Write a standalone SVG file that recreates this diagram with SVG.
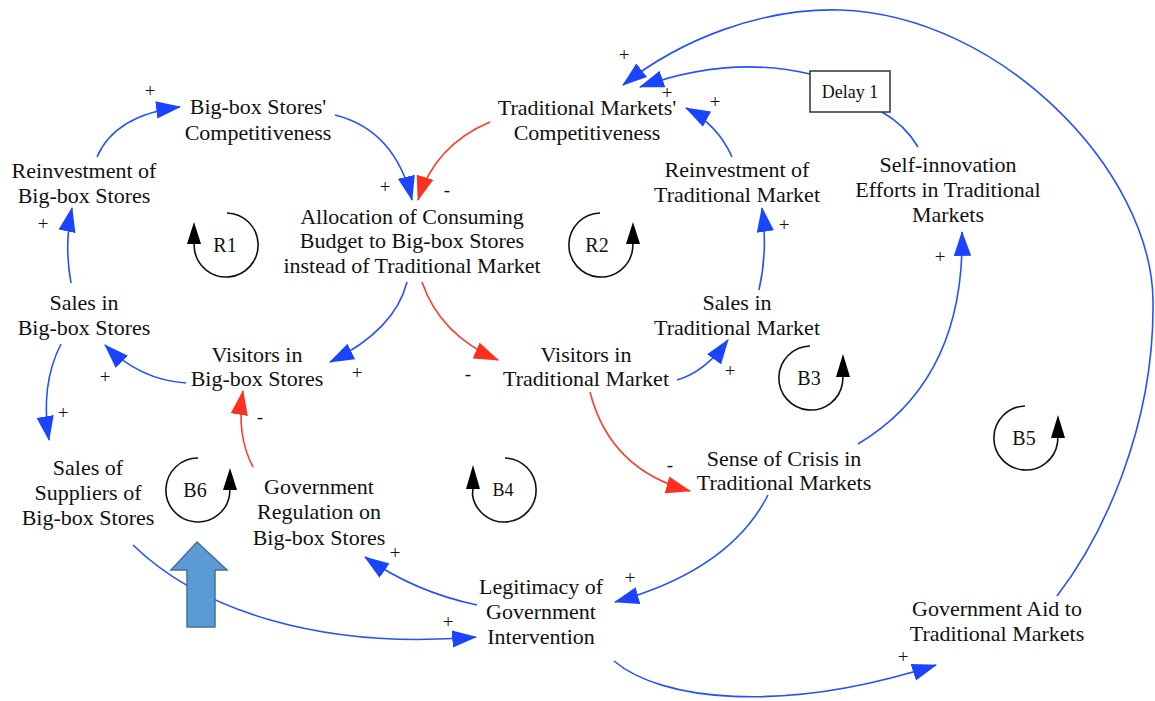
<svg xmlns="http://www.w3.org/2000/svg" width="1155" height="701" viewBox="0 0 1155 701">
<style>
.t{font-family:"Liberation Serif","Times New Roman",serif;font-size:22px;fill:#111;text-anchor:middle}
.s{font-family:"Liberation Serif","Times New Roman",serif;font-size:19px;fill:#111;text-anchor:middle;dominant-baseline:central}
.lp{font-family:"Liberation Serif","Times New Roman",serif;font-size:20px;fill:#111;text-anchor:middle;dominant-baseline:central}
.b{fill:none;stroke:#2352ff;stroke-width:1.6;marker-end:url(#ab)}
.r{fill:none;stroke:#ff3b2b;stroke-width:1.6;marker-end:url(#ar)}
.bl{fill:none;stroke:#2352ff;stroke-width:1.6}
.loop{fill:none;stroke:#111;stroke-width:1.6}
.lh{fill:#000}
</style>
<defs>
<marker id="ab" markerUnits="userSpaceOnUse" markerWidth="26" markerHeight="18" viewBox="0 0 24 16" refX="22" refY="8" orient="auto"><path d="M0,0 L23,8 L0,16 z" fill="#1a44ff"/></marker>
<marker id="ar" markerUnits="userSpaceOnUse" markerWidth="26" markerHeight="18" viewBox="0 0 24 16" refX="22" refY="8" orient="auto"><path d="M0,0 L23,8 L0,16 z" fill="#ff3020"/></marker>
</defs>
<rect width="1155" height="701" fill="#fff"/>
<g id="connectors">
<path class="b" d="M97,157 Q115,115 180,107"/>
<path class="b" d="M335,115 Q395,130 412,200"/>
<path class="r" d="M490,122 Q435,145 418,200"/>
<path class="b" d="M71,283 Q64,245 72,208"/>
<path class="b" d="M407,282 Q395,330 330,362"/>
<path class="r" d="M422,282 Q440,335 498,360"/>
<path class="b" d="M186,383 Q140,380 105,345"/>
<path class="b" d="M61,344 Q40,385 49,440"/>
<path class="r" d="M253,467 Q236,435 243,391"/>
<path class="b" d="M677,380 Q705,372 728,340"/>
<path class="b" d="M759,290 Q768,250 762,208"/>
<path class="b" d="M732,157 Q718,125 686,108"/>
<path class="r" d="M590,392 Q610,470 690,491"/>
<path class="b" d="M858,444 Q965,380 962,232"/>
<path class="bl" d="M918,147 Q905,125 882,112"/>
<path class="b" d="M810,74 Q730,55 640,87"/>
<path class="b" d="M1057,596 C1100,540 1155,430 1153,300 C1151,170 1000,15 840,10 C760,8 680,40 623,85"/>
<path class="b" d="M768,495 Q730,570 615,602"/>
<path class="b" d="M477,605 Q415,592 365,557"/>
<path class="b" d="M133,545 C200,610 320,650 476,637"/>
<path class="b" d="M614,661 C660,700 780,715 936,665"/>
</g>
<g id="signs">
<text class="s" x="150" y="90">+</text>
<text class="s" x="385" y="186">+</text>
<text class="s" x="447" y="189">-</text>
<text class="s" x="43" y="223">+</text>
<text class="s" x="357" y="372">+</text>
<text class="s" x="468" y="373">-</text>
<text class="s" x="105" y="376">+</text>
<text class="s" x="63" y="412">+</text>
<text class="s" x="260" y="416">-</text>
<text class="s" x="730" y="370">+</text>
<text class="s" x="784" y="224">+</text>
<text class="s" x="715" y="101">+</text>
<text class="s" x="667" y="92">+</text>
<text class="s" x="624" y="54">+</text>
<text class="s" x="670" y="464">-</text>
<text class="s" x="940" y="256">+</text>
<text class="s" x="630" y="577">+</text>
<text class="s" x="395" y="552">+</text>
<text class="s" x="448" y="621">+</text>
<text class="s" x="903" y="656">+</text>
</g>
<g id="n-bbcomp"><text class="t" x="258" y="114">Big-box Stores'</text><text class="t" x="258" y="140">Competitiveness</text></g>
<g id="n-reinvbb"><text class="t" x="84" y="178">Reinvestment of</text><text class="t" x="84" y="203">Big-box Stores</text></g>
<g id="n-alloc"><text class="t" x="412" y="224">Allocation of Consuming</text><text class="t" x="412" y="248">Budget to Big-box Stores</text><text class="t" x="412" y="273">instead of Traditional Market</text></g>
<g id="n-tmcomp"><text class="t" x="587" y="115">Traditional Markets'</text><text class="t" x="587" y="140">Competitiveness</text></g>
<g id="n-reinvtm"><text class="t" x="737" y="177">Reinvestment of</text><text class="t" x="737" y="202">Traditional Market</text></g>
<g id="n-selfinn"><text class="t" x="948" y="172">Self-innovation</text><text class="t" x="948" y="197">Efforts in Traditional</text><text class="t" x="948" y="222">Markets</text></g>
<g id="n-delay"><rect x="810" y="71" width="80" height="41" fill="#fff" stroke="#333" stroke-width="1.5"/><text class="t" x="850" y="98" style="font-size:18px">Delay 1</text></g>
<g id="n-salesbb"><text class="t" x="84" y="310">Sales in</text><text class="t" x="84" y="335">Big-box Stores</text></g>
<g id="n-visbb"><text class="t" x="257" y="362">Visitors in</text><text class="t" x="257" y="386">Big-box Stores</text></g>
<g id="n-suppliers"><text class="t" x="88" y="475">Sales of</text><text class="t" x="88" y="500">Suppliers of</text><text class="t" x="88" y="525">Big-box Stores</text></g>
<g id="n-govreg"><text class="t" x="319" y="494">Government</text><text class="t" x="319" y="519">Regulation on</text><text class="t" x="319" y="545">Big-box Stores</text></g>
<g id="n-vistm"><text class="t" x="586" y="362">Visitors in</text><text class="t" x="586" y="386">Traditional Market</text></g>
<g id="n-salestm"><text class="t" x="737" y="310">Sales in</text><text class="t" x="737" y="335">Traditional Market</text></g>
<g id="n-crisis"><text class="t" x="784" y="466">Sense of Crisis in</text><text class="t" x="784" y="490">Traditional Markets</text></g>
<g id="n-legit"><text class="t" x="541" y="594">Legitimacy of</text><text class="t" x="541" y="619">Government</text><text class="t" x="541" y="644">Intervention</text></g>
<g id="n-govaid"><text class="t" x="997" y="616">Government Aid to</text><text class="t" x="997" y="641">Traditional Markets</text></g>
<g id="loop-R1"><path class="loop" d="M227,213 A32,32 0 1 1 194.5,250 L194,243"/><polygon class="lh" points="194,222 187,244 201,244"/><text class="lp" x="225" y="245">R1</text></g>
<g id="loop-R2"><path class="loop" d="M600,213 A32,32 0 1 0 632.5,250 L633,243"/><polygon class="lh" points="633,222 626,244 640,244"/><text class="lp" x="597" y="245">R2</text></g>
<g id="loop-B3"><path class="loop" d="M810,346 A32,32 0 1 0 842.5,383 L843,376"/><polygon class="lh" points="843,354 836,377 850,377"/><text class="lp" x="809" y="378">B3</text></g>
<g id="loop-B4"><path class="loop" d="M505,458 A32,32 0 1 1 472.5,495 L473,488"/><polygon class="lh" points="473,465 466,489 480,489"/><text class="lp" x="503" y="490" style="font-size:18px">B4</text></g>
<g id="loop-B5"><path class="loop" d="M1025,406 A32,32 0 1 0 1057.5,443 L1058,436"/><polygon class="lh" points="1058,415 1051,438 1065,438"/><text class="lp" x="1024" y="438">B5</text></g>
<g id="loop-B6"><path class="loop" d="M198,458 A32,32 0 1 0 229.5,495 L230,488"/><polygon class="lh" points="230,468 223,490 237,490"/><text class="lp" x="195" y="490">B6</text></g>
<g id="block-arrow"><polygon points="197,542 227,570 215,570 215,627 187,627 187,570 171,570" fill="#5b9bd5" stroke="#41719c" stroke-width="1.5"/></g>
</svg>
